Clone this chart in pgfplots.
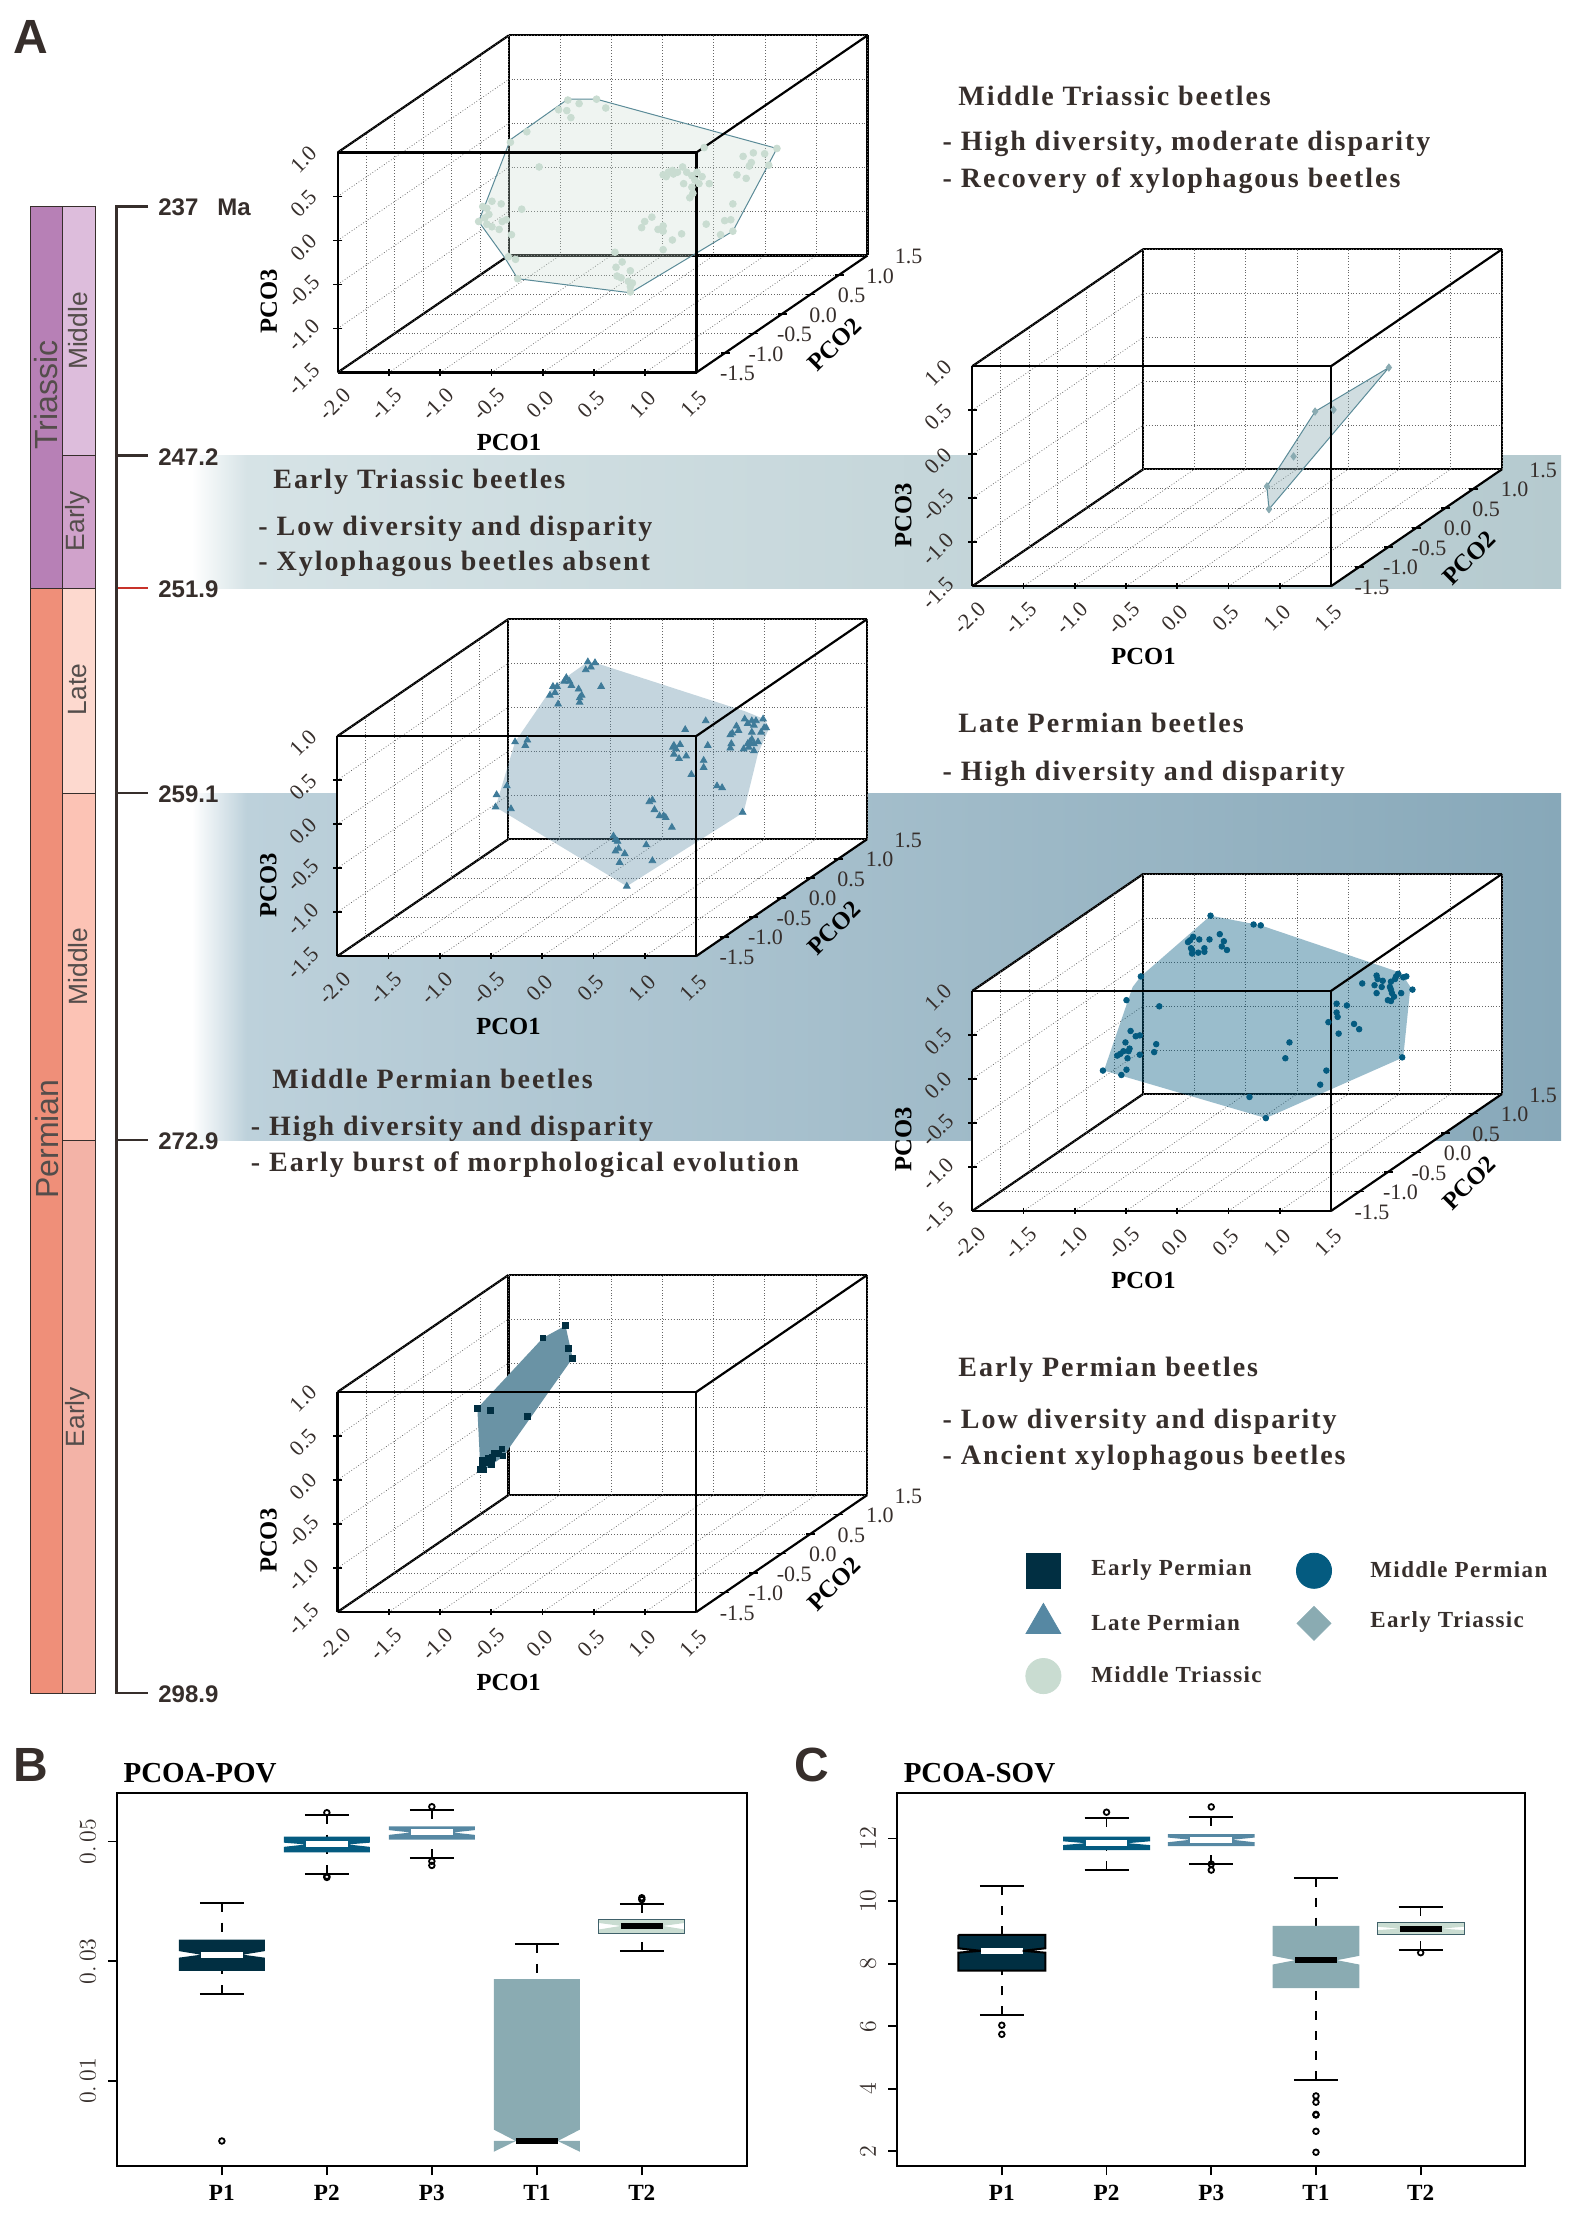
\documentclass[border=0pt]{standalone}
\usepackage{fontspec}
\usepackage{pgfplots}
\usepackage{pgfplotstable}
\pgfplotsset{compat=1.18}
\setmainfont{Liberation Serif}
\newfontfamily\lsans{Liberation Sans}
\newfontfamily\capfont[LetterSpace=7]{Liberation Serif}
\newfontfamily\legfont[LetterSpace=6]{Liberation Serif}

% one reference pixel is half a point
\newcommand{\px}[2]{(#1*0.5pt,-#2*0.5pt)}

\definecolor{ink}{HTML}{362E2B}
\definecolor{cTri}{HTML}{B780B6}
\definecolor{cTriM}{HTML}{DDBDDC}
\definecolor{cTriE}{HTML}{D0A2CB}
\definecolor{cPer}{HTML}{EF8F79}
\definecolor{cPerL}{HTML}{FDD9CF}
\definecolor{cPerM}{HTML}{FCC3B5}
\definecolor{cPerE}{HTML}{F3B3A7}
\definecolor{cRed}{HTML}{C8322A}
\definecolor{bandAl}{HTML}{D6E3E6}
\definecolor{bandAr}{HTML}{B5CACF}
\definecolor{bandBl}{HTML}{BDD1DB}
\definecolor{bandBr}{HTML}{87A8B9}
\definecolor{cEP}{HTML}{012F42}
\definecolor{cEPh}{HTML}{6A93A5}
\definecolor{cMP}{HTML}{045B80}
\definecolor{cLP}{HTML}{5688A3}
\definecolor{cLPm}{HTML}{3F7B99}
\definecolor{cET}{HTML}{8AABB2}
\definecolor{cMT}{HTML}{C9DCD1}
\definecolor{edge}{HTML}{5B8B98}

\pgfdeclarehorizontalshading{bandA}{100bp}{color(0bp)=(white); color(25bp)=(white); color(27bp)=(bandAl); color(75bp)=(bandAr); color(100bp)=(bandAr)}
\pgfdeclarehorizontalshading{bandB}{100bp}{color(0bp)=(white); color(25bp)=(white); color(27bp)=(bandBl); color(75bp)=(bandBr); color(100bp)=(bandBr)}

\pgfplotsset{
  pco/.style={
    x={(51.25pt,0pt)}, y={(28.5pt,19.5pt)}, z={(0pt,44pt)},
    anchor=origin, clip=false,
    xmin=-2, xmax=1.5, ymin=-1.5, ymax=1.5, zmin=-1.5, zmax=1,
    xtick={-2,-1.5,-1,-0.5,0,0.5,1,1.5},
    ytick={-1.5,-1,-0.5,0,0.5,1,1.5},
    ztick={-1.5,-1,-0.5,0,0.5,1},
    xticklabels={-2.0,-1.5,-1.0,-0.5,0.0,0.5,1.0,1.5},
    yticklabels={-1.5,-1.0,-0.5,0.0,0.5,1.0,1.5},
    zticklabels={-1.5,-1.0,-0.5,0.0,0.5,1.0},
    3d box=complete, grid=major,
    grid style={black!60, densely dotted, line width=0.35pt},
    axis line style={black, line width=1.1pt},
    tick align=center, major tick length=5pt,
    tick style={draw=none},
    tick label style={font=\fontsize{11}{11}\selectfont, text=ink},
    xticklabel style={anchor=center, xshift=0.75pt, yshift=-14.5pt, rotate=45},
    yticklabel style={anchor=center, xshift=18pt, yshift=-0.5pt},
    zticklabel style={anchor=center, xshift=-15pt, yshift=-2pt, rotate=45},
    xlabel=PCO1, ylabel=PCO2, zlabel=PCO3,
    every axis x label/.style={at={(axis cs:-0.33,-1.5,-1.5)}, anchor=center, yshift=-35pt, font=\fontsize{12.3}{12.3}\selectfont\bfseries},
    every axis y label/.style={at={(axis cs:1.5,-1.5,-1.5)}, anchor=center, xshift=69pt, yshift=14pt, rotate=45, font=\fontsize{12.3}{12.3}\selectfont\bfseries},
    every axis z label/.style={at={(axis cs:-2,-1.5,-0.69)}, anchor=center, xshift=-34.5pt, rotate=90, font=\fontsize{12.3}{12.3}\selectfont\bfseries},
  },
  boxp/.style={
    scale only axis, clip=false, xmin=0, xmax=6, xtick={1,2,3,4,5},
    xticklabels={P1,P2,P3,T1,T2}, tick pos=left, tick align=outside,
    scaled y ticks=false,
    major tick length=4.5pt, tick style={black, line width=0.9pt},
    axis line style={black, line width=1pt},
    xticklabel style={font=\fontsize{11.6}{11.6}\selectfont\bfseries, anchor=center, yshift=-9pt},
    yticklabel style={font=\fontsize{12}{12}\selectfont, text=ink, anchor=center, xshift=-10pt, rotate=90},
    title style={font=\fontsize{14.5}{14.5}\selectfont\bfseries, anchor=base west, at={(0,1)}, xshift=-0.2pt, yshift=-0.65pt},
  }
}

% tick marks only on the three labelled edges of the box
\newcommand{\boxticks}{
  \addplot3[only marks, mark=|, mark size=1.6pt, mark options={black, line width=0.9pt}, forget plot] coordinates {(-1.5,-1.5,-1.5) (-1,-1.5,-1.5) (-0.5,-1.5,-1.5) (0,-1.5,-1.5) (0.5,-1.5,-1.5) (1,-1.5,-1.5)};
  \addplot3[only marks, mark=-, mark size=2.25pt, mark options={black, line width=0.9pt}, forget plot] coordinates {(1.5,-1,-1.5) (1.5,-0.5,-1.5) (1.5,0,-1.5) (1.5,0.5,-1.5) (1.5,1,-1.5)};
  \addplot3[only marks, mark=-, mark size=2.25pt, mark options={black, line width=0.9pt}, forget plot] coordinates {(-2,-1.5,-1) (-2,-1.5,-0.5) (-2,-1.5,0) (-2,-1.5,0.5)};
}

% notched box: centre, colour, top, upper notch, median, lower notch, bottom, median colour, half width
\newcommand{\nbox}[9]{
  \pgfmathsetmacro{\xL}{#1-#9}\pgfmathsetmacro{\xR}{#1+#9}
  \pgfmathsetmacro{\xl}{#1-0.2}\pgfmathsetmacro{\xr}{#1+0.2}
  \addplot[fill=#2, draw=none, forget plot] coordinates {(\xL,#3) (\xR,#3) (\xR,#4) (\xr,#5) (\xR,#6) (\xR,#7) (\xL,#7) (\xL,#6) (\xl,#5) (\xL,#4) (\xL,#3)};
  \addplot[#8, line width=3pt, forget plot] coordinates {(\xl,#5) (\xr,#5)};
}
% whisker: centre, box end, cap
\newcommand{\whisk}[3]{
  \pgfmathsetmacro{\xl}{#1-0.21}\pgfmathsetmacro{\xr}{#1+0.21}
  \addplot[black, line width=0.8pt, dash pattern=on 4.5pt off 5.5pt, forget plot] coordinates {(#1,#3) (#1,#2)};
  \addplot[black, line width=1pt, forget plot] coordinates {(\xl,#3) (\xr,#3)};
}

\newcommand{\capt}[3]{\node[anchor=base west, inner sep=0pt, text=ink, font=\fontsize{14}{14}\selectfont\capfont\bfseries] at \px{#1}{#2} {#3};}
\newcommand{\agelab}[2]{\node[anchor=base west, inner sep=0pt, text=ink, font=\fontsize{12}{12}\selectfont\lsans\bfseries] at \px{158}{#1} {#2};}
\newcommand{\per}[4]{\node[rotate=90, text=ink!85, font=\fontsize{#4}{#4}\selectfont\lsans] at \px{#1}{#2} {#3};}

\pgfplotstableread{
x y z
-0.59 0 0.93
-0.31 0 0.94
-0.48 0 0.89
-0.22 0 0.84
-0.68 0 0.82
-0.60 0 0.81
-0.56 0 0.73
-0.99 0 0.57
-1.15 0 0.45
-0.87 0 0.17
1.45 0 0.38
1.33 0 0.32
1.22 0 0.33
1.12 0 0.29
1.20 0 0.22
1.18 0 0.18
1.06 0 0.08
1.15 0 0.04
1.37 0 0.19
0.74 0 0.39
0.34 0 0.08
0.39 0 0.11
0.43 0 0.13
0.48 0 0.11
0.53 0 0.17
0.57 0 0.11
0.62 0 0.07
0.54 0 -0.02
0.67 0 0.11
0.72 0 0.06
0.69 0 -0.02
0.62 0 -0.06
0.63 0 -0.13
0.60 0 -0.18
0.79 0 -0.02
0.37 0 0.06
0.44 0 0.09
0.65 0 0.02
1.02 0 -0.25
0.94 0 -0.44
1.00 0 -0.43
0.76 0 -0.48
0.90 0 -0.60
1.02 0 -0.56
0.23 0 -0.40
0.16 0 -0.45
0.13 0 -0.52
0.34 0 -0.50
0.29 0 -0.54
0.34 0 -0.56
0.52 0 -0.59
0.43 0 -0.66
0.34 0 -0.77
-0.13 0 -0.80
-0.06 0 -0.91
-0.12 0 -0.97
-0.11 0 -1.07
-0.07 0 -1.09
0.02 0 -1.01
0.00 0 -1.13
0.04 0 -1.15
0.02 0 -1.19
0.02 0 -1.25
-1.33 0 -0.22
-1.24 0 -0.25
-1.38 0 -0.30
-1.42 0 -0.28
-1.36 0 -0.37
-1.40 0 -0.41
-1.46 0 -0.45
-1.38 0 -0.48
-1.33 0 -0.51
-1.23 0 -0.45
-1.19 0 -0.43
-1.26 0 -0.54
-1.04 0 -0.31
-1.14 0 -0.60
-1.10 0 -0.88
-1.17 0 -0.85
-1.08 0 -1.10
}\ptsMT

\pgfplotstableread{
x y z
-0.39 0 1.18
-0.32 0 1.17
-0.36 0 1.12
-0.41 0 1.09
-0.26 0 0.90
-0.60 0 1.00
-0.62 0 0.96
-0.57 0 0.96
-0.55 0 0.91
-0.73 0 0.90
-0.69 0 0.90
-0.71 0 0.83
-0.76 0 0.80
-0.48 0 0.87
-0.45 0 0.80
-0.47 0 0.77
-0.68 0 0.70
-0.47 0 0.72
-1.10 0 0.27
-0.98 0 0.29
-1.00 0 0.23
0.76 0 0.51
0.56 0 0.41
0.45 0 0.23
0.51 0 0.24
0.47 0 0.19
0.44 0 0.21
0.45 0 0.13
0.57 0 0.11
0.50 0 0.08
0.78 0 0.23
0.74 0 0.06
0.74 0 -0.02
0.62 0 -0.10
0.87 0 -0.23
0.92 0 -0.25
1.12 0 -0.53
1.14 0 0.53
1.21 0 0.51
1.25 0 0.51
1.32 0 0.53
1.35 0 0.43
1.33 0 0.43
1.17 0 0.48
1.23 0 0.46
1.06 0 0.45
1.08 0 0.40
1.02 0 0.37
1.00 0 0.35
1.30 0 0.38
1.21 0 0.38
1.21 0 0.30
1.19 0 0.27
1.23 0 0.25
1.17 0 0.25
1.27 0 0.27
1.01 0 0.25
1.00 0 0.20
1.13 0 0.19
1.23 0 0.17
1.18 0 0.21
-1.18 0 -0.23
-1.28 0 -0.33
-1.29 0 -0.47
-1.14 0 -0.49
0.24 0 -0.39
0.21 0 -0.41
0.26 0 -0.50
0.31 0 -0.57
0.35 0 -0.57
0.37 0 -0.59
0.43 0 -0.70
-0.14 0 -0.80
-0.12 0 -0.84
-0.10 0 -0.86
-0.09 0 -0.94
-0.12 0 -0.97
-0.03 0 -1.00
-0.08 0 -1.10
0.18 0 -0.90
0.24 0 -1.08
-0.01 0 -1.37
}\ptsLP

\pgfplotstableread{
x y z
-0.51 0 1.19
-0.09 0 1.09
-0.02 0 1.08
-0.42 0 0.98
-0.52 0 0.92
-0.62 0 0.92
-0.68 0 0.95
-0.71 0 0.91
-0.73 0 0.89
-0.38 0 0.90
-0.40 0 0.84
-0.35 0 0.80
-0.70 0 0.82
-0.69 0 0.80
-0.69 0 0.76
-0.63 0 0.77
-0.57 0 0.82
-0.57 0 0.78
-1.19 0 0.50
-1.33 0 0.23
-1.01 0 0.16
1.11 0 0.51
1.12 0 0.47
1.17 0 0.45
0.97 0 0.42
1.09 0 0.40
1.16 0 0.38
1.11 0 0.31
1.24 0 0.38
1.25 0 0.44
1.29 0 0.47
1.30 0 0.50
1.32 0 0.53
1.37 0 0.49
1.40 0 0.50
1.46 0 0.35
1.35 0 0.31
1.25 0 0.35
1.26 0 0.31
1.28 0 0.27
1.22 0 0.23
1.25 0 0.22
0.72 0 0.19
0.82 0 0.17
0.72 0 0.09
0.73 0 0.04
0.64 0 -0.02
0.89 0 -0.04
0.94 0 -0.10
0.74 0 -0.15
1.36 0 -0.42
0.26 0 -0.25
0.22 0 -0.43
0.62 0 -0.57
0.56 0 -0.73
-0.13 0 -0.87
0.03 0 -1.11
-1.29 0 -0.12
-1.24 0 -0.18
-1.20 0 -0.17
-1.34 0 -0.25
-1.04 0 -0.27
-1.06 0 -0.36
-1.30 0 -0.32
-1.31 0 -0.35
-1.36 0 -0.35
-1.39 0 -0.38
-1.42 0 -0.40
-1.32 0 -0.43
-1.20 0 -0.39
-1.56 0 -0.57
-1.33 0 -0.56
-1.38 0 -0.62
}\ptsMP

\pgfplotstableread{
x y z
-0.61 0 1.09
-0.83 0 0.95
-0.58 0 0.83
-0.54 0 0.72
-1.47 0 0.15
-1.34 0 0.13
-0.98 0 0.06
-1.23 0 -0.31
-1.22 0 -0.39
-1.30 0 -0.36
-1.26 0 -0.36
-1.32 0 -0.41
-1.36 0 -0.42
-1.42 0 -0.44
-1.39 0 -0.46
-1.33 0 -0.49
-1.42 0 -0.49
-1.44 0 -0.54
-1.41 0 -0.55
}\ptsEP

\pgfplotstableread{
x y z
1.23 0 0.32
0.51 0 -0.18
0.69 0 -0.16
0.30 0 -0.69
0.04 0 -1.03
0.06 0 -1.29
}\ptsET

\begin{document}
\begin{tikzpicture}
\path[use as bounding box] \px{0}{0} rectangle \px{1575}{2216};

% bands behind the 3D panels
\shade[shading=bandA] \px{192}{455.4} rectangle \px{1561}{588};
\shade[shading=bandB] \px{192}{793} rectangle \px{1561}{1140};
\fill[white] \px{972.5}{586.3} -- \px{972.5}{366.3} -- \px{1143}{249.7} -- \px{1501.4}{249.7} -- \px{1501.4}{469} -- \px{1331.4}{586.3} -- cycle;
\fill[white] \px{337.5}{956.3} -- \px{337.5}{736.2} -- \px{508}{619} -- \px{866.5}{619} -- \px{866.5}{839.2} -- \px{696}{956.3} -- cycle;
\fill[white] \px{972.5}{1211} -- \px{972.5}{991.3} -- \px{1143.1}{874.3} -- \px{1501.4}{874.3} -- \px{1501.4}{1093.7} -- \px{1330.8}{1211} -- cycle;

% time scale
\begin{scope}[draw=ink, line width=0.5pt]
\filldraw[fill=cTri] \px{30.6}{206.7} rectangle \px{62.2}{588};
\filldraw[fill=cPer] \px{30.6}{588} rectangle \px{62.2}{1693};
\filldraw[fill=cTriM] \px{62.2}{206.7} rectangle \px{95}{455.4};
\filldraw[fill=cTriE] \px{62.2}{455.4} rectangle \px{95}{588};
\filldraw[fill=cPerL] \px{62.2}{588} rectangle \px{95}{793};
\filldraw[fill=cPerM] \px{62.2}{793} rectangle \px{95}{1140};
\filldraw[fill=cPerE] \px{62.2}{1140} rectangle \px{95}{1693};
\end{scope}
\per{46}{395}{Triassic}{16}
\per{47}{1139}{Permian}{16}
\per{78}{331}{Middle}{13.2}
\per{78}{521}{Early}{13.2}
\per{78}{689.5}{Late}{13.2}
\per{78}{966.5}{Middle}{13.2}
\per{78}{1417}{Early}{13.2}
\draw[ink, line width=1.4pt] \px{148}{206.7} -- \px{116.3}{206.7} -- \px{116.3}{1693} -- \px{148}{1693};
\foreach \yy in {455.4,793,1140} \draw[ink, line width=1.4pt] \px{116.3}{\yy} -- \px{148}{\yy};
\draw[cRed, line width=1.4pt] \px{118}{588} -- \px{148}{588};
\agelab{215}{237}
\node[anchor=base west, inner sep=0pt, text=ink, font=\fontsize{12}{12}\selectfont\lsans\bfseries] at \px{217}{215} {Ma};
\agelab{465}{247.2}
\agelab{597}{251.9}
\agelab{802}{259.1}
\agelab{1149}{272.9}
\agelab{1702}{298.9}

% Middle Triassic
\begin{axis}[pco, at={(628.3*0.5pt,-181.9*0.5pt)}]
\addplot3[fill=cMT, fill opacity=0.3, draw=edge, line width=0.5pt, mark=none] coordinates {(-0.59,0,0.94) (-0.31,0,0.94) (1.45,0,0.38) (1.02,0,-0.56) (0.02,0,-1.26) (-1.08,0,-1.10) (-1.20,0,-0.87) (-1.46,0,-0.45) (-1.15,0,0.48) (-0.59,0,0.94)};
\addplot3[only marks, color=cMT, mark=*, mark size=1.7pt, mark options={fill=cMT}] table[x=x,y=y,z=z] {\ptsMT};
\boxticks
\end{axis}

% Early Triassic
\begin{axis}[pco, at={(1262.8*0.5pt,-395.7*0.5pt)}]
\addplot3[fill=cET, fill opacity=0.4, draw=edge, line width=0.5pt, mark=none] coordinates {(0.06,0,-1.29) (0.04,0,-1.03) (0.51,0,-0.18) (1.23,0,0.32) (0.06,0,-1.29)};
\addplot3[only marks, color=cET, mark=diamond*, mark size=1.8pt, mark options={fill=cET}] table[x=x,y=y,z=z] {\ptsET};
\boxticks
\end{axis}

% Late Permian
\begin{axis}[pco, at={(627.8*0.5pt,-765.7*0.5pt)}]
\addplot3[fill=cLP, fill opacity=0.35, draw=none, mark=none] coordinates {(-0.39,0,1.18) (-0.32,0,1.17) (1.14,0,0.62) (1.33,0,0.53) (1.38,0,0.43) (1.27,0,0.14) (1.13,0,-0.53) (-0.01,0,-1.37) (-1.29,0,-0.47) (-1.10,0,0.27) (-0.73,0,0.90) (-0.39,0,1.18)};
\addplot3[only marks, color=cLPm, mark=triangle*, mark size=1.9pt, mark options={fill=cLPm}] table[x=x,y=y,z=z] {\ptsLP};
\boxticks
\end{axis}

% Middle Permian
\begin{axis}[pco, at={(1262.8*0.5pt,-1020.4*0.5pt)}]
\addplot3[fill=cMP, fill opacity=0.4, draw=none, mark=none] coordinates {(-0.51,0,1.19) (-0.02,0,1.08) (1.35,0,0.54) (1.44,0,0.38) (1.37,0,-0.42) (0.03,0,-1.11) (-1.55,0,-0.57) (-1.27,0,0.38) (-1.19,0,0.50) (-0.51,0,1.19)};
\addplot3[only marks, color=cMP, mark=*, mark size=1.4pt, mark options={fill=cMP}] table[x=x,y=y,z=z] {\ptsMP};
\boxticks
\end{axis}

% Early Permian
\begin{axis}[pco, at={(628*0.5pt,-1421.5*0.5pt)}]
\addplot3[fill=cEPh, draw=none, mark=none] coordinates {(-0.61,0,1.09) (-0.54,0,0.72) (-1.22,0,-0.40) (-1.40,0,-0.55) (-1.44,0,-0.55) (-1.47,0,0.15) (-0.83,0,0.95) (-0.61,0,1.09)};
\addplot3[only marks, color=cEP, mark=square*, mark size=1.45pt, mark options={fill=cEP}] table[x=x,y=y,z=z] {\ptsEP};
\boxticks
\end{axis}

% legend
\begin{axis}[hide axis, scale only axis, anchor=south west, at={(772.8*0.5pt,-1728.7*0.5pt)},
  width=405.9pt, height=105.3pt, xmin=-1, xmax=2, ymin=-1, ymax=3, clip=false]
\addplot[only marks, color=cEP, mark=square*, mark size=8.6pt, mark options={fill=cEP}] coordinates {(0,2)};
\addplot[only marks, color=cMP, mark=*, mark size=8.8pt, mark options={fill=cMP}] coordinates {(1,2)};
\addplot[only marks, color=cLP, mark=triangle*, mark size=10pt, mark options={fill=cLP}] coordinates {(0,1)};
\addplot[only marks, color=cET, mark=square*, mark size=6pt, mark options={fill=cET, rotate=45}] coordinates {(1,1)};
\addplot[only marks, color=cMT, mark=*, mark size=8.8pt, mark options={fill=cMT}] coordinates {(0,0)};
\end{axis}

% panel B
\begin{axis}[boxp, at={(116.9*0.5pt,-2166*0.5pt)}, anchor=south west, width=314.95pt, height=186.6pt,
  ymin=-0.00418, ymax=0.05812, ytick={0.01,0.03,0.05}, yticklabels={$0.\,01$,$0.\,03$,$0.\,05$},
  title={PCOA-POV}]
\whisk{1}{0.0336}{0.0398}\whisk{1}{0.0284}{0.0246}
\whisk{2}{0.0508}{0.0545}\whisk{2}{0.0482}{0.0446}
\whisk{3}{0.0525}{0.0553}\whisk{3}{0.0503}{0.0472}
\whisk{4}{0.0270}{0.0329}
\whisk{5}{0.0370}{0.0395}\whisk{5}{0.0347}{0.0317}
\nbox{1}{cEP}{0.0336}{0.0317}{0.0311}{0.0306}{0.0284}{white}{0.41}
\nbox{2}{cMP}{0.0508}{0.0498}{0.0495}{0.0491}{0.0482}{white}{0.41}
\nbox{3}{cLP}{0.0525}{0.0519}{0.0515}{0.0511}{0.0503}{white}{0.41}
\nbox{4}{cET}{0.0270}{0.0019}{0.0000}{-0.0018}{0.0000}{black}{0.41}
\nbox{5}{cMT}{0.0370}{0.0364}{0.0359}{0.0353}{0.0347}{black}{0.41}
\addplot[only marks, mark=o, mark size=1.4pt, mark options={line width=0.9pt, black}] coordinates {(1,0.0000) (2,0.0548) (2,0.0442) (2,0.0440) (3,0.0558) (3,0.0467) (3,0.0460) (5,0.0406) (5,0.0403)};
\addplot[edge!70!black, line width=0.6pt, forget plot] coordinates {(4.59,0.0370) (5.41,0.0370) (5.41,0.0347) (4.59,0.0347) (4.59,0.0370)};
\end{axis}

% panel C
\begin{axis}[boxp, at={(897.1*0.5pt,-2166*0.5pt)}, anchor=south west, width=314.15pt, height=186.6pt,
  ymin=1.53, ymax=13.46, ytick={2,4,6,8,10,12},
  title={PCOA-SOV}]
\whisk{1}{8.92}{10.48}\whisk{1}{7.78}{6.345}
\whisk{2}{12.06}{12.66}\whisk{2}{11.63}{10.99}
\whisk{3}{12.14}{12.69}\whisk{3}{11.76}{11.19}
\whisk{4}{9.21}{10.75}\whisk{4}{7.22}{4.28}
\whisk{5}{9.32}{9.82}\whisk{5}{8.93}{8.45}
\nbox{1}{cEP}{8.92}{8.49}{8.41}{8.35}{7.78}{white}{0.415}
\addplot[black, line width=1pt, forget plot] coordinates {(0.585,8.92) (1.415,8.92) (1.415,8.49) (1.2,8.41) (1.415,8.35) (1.415,7.78) (0.585,7.78) (0.585,8.35) (0.8,8.41) (0.585,8.49) (0.585,8.92)};
\nbox{2}{cMP}{12.06}{11.91}{11.85}{11.79}{11.63}{white}{0.415}
\nbox{3}{cLP}{12.14}{12.03}{11.96}{11.88}{11.76}{white}{0.415}
\nbox{4}{cET}{9.21}{8.25}{8.11}{7.97}{7.22}{black}{0.415}
\nbox{5}{cMT}{9.32}{9.18}{9.12}{9.07}{8.93}{black}{0.415}
\addplot[edge!70!black, line width=0.6pt, forget plot] coordinates {(4.585,9.32) (5.415,9.32) (5.415,8.93) (4.585,8.93) (4.585,9.32)};
\addplot[only marks, mark=o, mark size=1.4pt, mark options={line width=0.9pt, black}] coordinates {(1,6.03) (1,5.74) (2,12.84) (3,13.01) (3,11.18) (3,10.99) (4,3.77) (4,3.57) (4,3.18) (4,3.16) (4,2.64) (4,1.97) (5,8.35)};
\end{axis}

% panel letters
\foreach \tx/\ux/\uy in {A/13/53.6,B/13/1781,C/793.7/1781}
  \node[anchor=base west, inner sep=0pt, text=ink, font=\fontsize{24}{24}\selectfont\lsans\bfseries] at \px{\ux}{\uy} {\tx};

% captions
\capt{958}{105}{Middle Triassic beetles}
\capt{942.3}{150.4}{- High diversity, moderate disparity}
\capt{942.3}{187.4}{- Recovery of xylophagous beetles}
\capt{273}{488.4}{Early Triassic beetles}
\capt{258}{535}{- Low diversity and disparity}
\capt{258}{570}{- Xylophagous beetles absent}
\capt{958}{732}{Late Permian beetles}
\capt{942.3}{780.6}{- High diversity and disparity}
\capt{272}{1088.4}{Middle Permian beetles}
\capt{250.5}{1135.4}{- High diversity and disparity}
\capt{250.5}{1171}{- Early burst of morphological evolution}
\capt{958}{1376.4}{Early Permian beetles}
\capt{942.3}{1428.8}{- Low diversity and disparity}
\capt{942.3}{1464.4}{- Ancient xylophagous beetles}

% legend text
\newcommand{\legt}[3]{\node[anchor=base west, inner sep=0pt, text=ink, font=\fontsize{11.5}{11.5}\selectfont\legfont\bfseries] at \px{#1}{#2} {#3};}
\legt{1091}{1575}{Early Permian}
\legt{1370}{1577.7}{Middle Permian}
\legt{1091}{1630}{Late Permian}
\legt{1370}{1627.7}{Early Triassic}
\legt{1091}{1682.7}{Middle Triassic}
\end{tikzpicture}
\end{document}
